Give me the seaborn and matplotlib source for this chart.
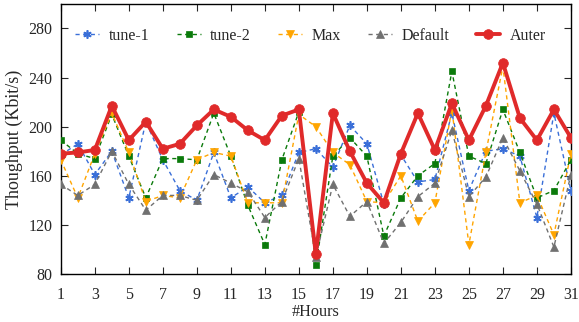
import matplotlib
matplotlib.use("Agg")
import matplotlib.pyplot as plt
import pandas as pd
import seaborn as sns

hours = list(range(1, 32))
tune1 = [177, 186, 161, 180, 142, 204, 173, 148, 140, 179, 142, 151, 138, 144, 179, 182,
         167, 201, 186, 137, 177, 155, 157, 211, 148, 180, 182, 176, 126, 211, 148]
tune2 = [189, 178, 174, 210, 176, 142, 174, 174, 173, 211, 176, 136, 104, 173, 212, 87,
         176, 191, 176, 111, 142, 160, 170, 245, 176, 170, 214, 179, 142, 148, 173]
max_vals = [173, 142, 178, 211, 179, 139, 144, 142, 173, 179, 176, 138, 138, 138, 210, 200,
            179, 169, 139, 138, 160, 123, 138, 214, 104, 179, 249, 138, 144, 112, 178]
default = [153, 144, 153, 180, 153, 132, 144, 144, 140, 161, 154, 147, 126, 139, 174, 94,
           153, 127, 139, 105, 122, 143, 154, 197, 143, 159, 191, 164, 137, 102, 161]
auter = [178, 179, 181, 217, 189, 204, 182, 186, 201, 214, 208, 197, 189, 209, 214, 96,
         211, 180, 154, 138, 178, 211, 181, 219, 189, 217, 252, 207, 189, 214, 191]

series = {"tune-1": tune1, "tune-2": tune2, "Max": max_vals, "Default": default, "Auter": auter}
dash = (3, 2.5)
styles = {
    "tune-1": dict(color="#3a6fd8", marker=(6, 2, 0), ls=(0, dash), lw=1.0, ms=6, mew=1.2),
    "tune-2": dict(color="#0b7a0b", marker="s", ls=(0, dash), lw=1.0, ms=5, mew=0.5),
    "Max": dict(color="#ffa500", marker="v", ls=(0, dash), lw=1.0, ms=5.5, mew=0.5),
    "Default": dict(color="#707070", marker="^", ls=(0, dash), lw=1.0, ms=5.5, mew=0.5),
    "Auter": dict(color="#e02a2a", marker="o", ls="-", lw=2.8, ms=7, mew=0.5),
}

df = pd.DataFrame([(h, name, v) for name, vals in series.items() for h, v in zip(hours, vals)],
                  columns=["hour", "series", "value"])

sns.set_theme(style="ticks")
plt.rcParams["font.family"] = ["Liberation Serif", "DejaVu Serif"]

fig, ax = plt.subplots(figsize=(5.79, 3.22), dpi=100)
fig.subplots_adjust(left=0.105, right=0.986, top=0.988, bottom=0.149)

for name in series:
    st = styles[name]
    sns.lineplot(data=df[df["series"] == name], x="hour", y="value", ax=ax, label=name,
                 color=st["color"], marker=st["marker"], linestyle=st["ls"], linewidth=st["lw"],
                 markersize=st["ms"], markeredgewidth=st["mew"], markeredgecolor=st["color"],
                 zorder=5 if name == "Auter" else 3)

ax.set_xlim(1, 31)
ax.set_ylim(80, 300)
ax.set_xticks(range(1, 32, 2))
ax.set_yticks(range(80, 281, 40))
ax.tick_params(direction="in", top=True, right=True, labelsize=11.5, length=5, width=0.8)
ax.tick_params(axis="x", pad=9)
ax.tick_params(axis="y", pad=6)
ax.set_xlabel("#Hours", fontsize=11.7, labelpad=1)
ax.set_ylabel("Thoughput (Kbit/s)", fontsize=13, labelpad=4)
for spine in ax.spines.values():
    spine.set_visible(True)
    spine.set_color("black")
    spine.set_linewidth(1.0)

ax.legend(loc="upper left", bbox_to_anchor=(0.0, 0.965), ncol=5, frameon=False,
          fontsize=11.5, handlelength=1.5, handletextpad=0.6, columnspacing=1.7)

fig.savefig("out.png", dpi=100)
